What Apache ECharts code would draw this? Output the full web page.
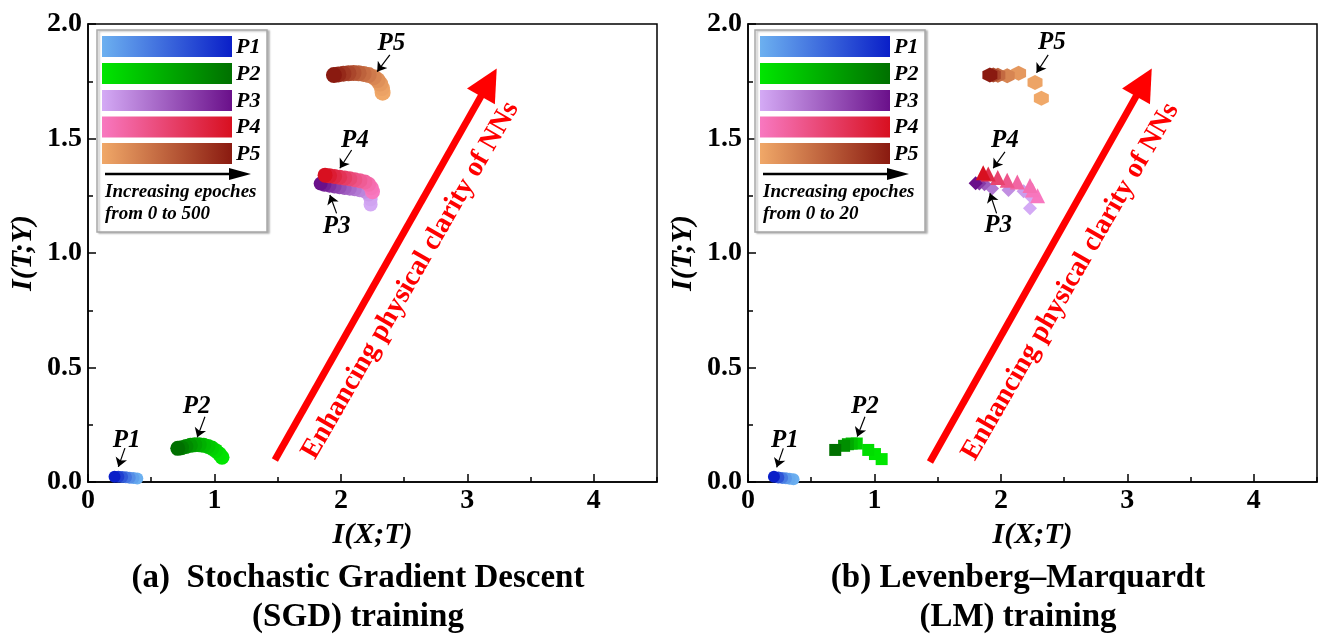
<!DOCTYPE html>
<html><head><meta charset="utf-8">
<script src="https://cdn.jsdelivr.net/npm/echarts@6/dist/echarts.min.js"></script>
<style>html,body{margin:0;padding:0;background:#fff}#c{width:1321px;height:636px}</style>
</head><body><div id="c"></div>
<script>
const FONT = "'Liberation Serif','Times New Roman',serif";

// ---------- data (I(X;T), I(T;Y)), ordered from epoch 0 to last epoch ----------
const names = ['P1', 'P2', 'P3', 'P4', 'P5'];
const colorLight = ['#6cb0f0', '#00e600', '#d4aaf5', '#f878c0', '#f0a868'];
const colorDark  = ['#0a1fc8', '#007000', '#6a108a', '#d81020', '#8a1a10'];

// (a) SGD training, 0..500 epochs
const sgdP1 = [[0.39,0.015],[0.36,0.017],[0.33,0.019],[0.30,0.021],[0.27,0.022],[0.24,0.023],[0.21,0.023]];
const sgdP2 = [[1.06,0.108],[1.04,0.122],[1.01,0.137],[0.98,0.148],[0.95,0.155],[0.915,0.160],[0.88,0.163],[0.845,0.163],[0.81,0.160],[0.775,0.155],[0.74,0.150],[0.71,0.147]];
const sgdP3 = [[2.235,1.212],[2.235,1.235],[2.22,1.255],[2.19,1.268],[2.15,1.274],[2.11,1.278],[2.07,1.281],[2.03,1.284],[1.99,1.287],[1.95,1.290],[1.91,1.294],[1.87,1.298],[1.84,1.303]];
const sgdP4 = [[2.25,1.268],[2.24,1.285],[2.22,1.300],[2.19,1.310],[2.15,1.316],[2.11,1.320],[2.07,1.324],[2.03,1.328],[1.99,1.331],[1.95,1.334],[1.91,1.337],[1.875,1.340]];
const sgdP5 = [[2.33,1.700],[2.325,1.720],[2.31,1.740],[2.29,1.755],[2.26,1.768],[2.22,1.777],[2.18,1.782],[2.14,1.785],[2.10,1.786],[2.06,1.785],[2.02,1.783],[1.98,1.780],[1.945,1.777]];

// (b) LM training, 0..20 epochs
const lmP1 = [[0.36,0.012],[0.33,0.014],[0.30,0.016],[0.27,0.018],[0.24,0.020],[0.205,0.023]];
const lmP2 = [[1.057,0.100],[1.004,0.122],[0.951,0.140],[0.86,0.168],[0.82,0.168],[0.79,0.165],[0.76,0.158],[0.69,0.140]];
const lmP3 = [[2.23,1.195],[2.23,1.250],[2.18,1.270],[2.06,1.275],[1.93,1.282],[1.87,1.300],[1.83,1.304],[1.80,1.305]];
const lmP4 = [[2.29,1.250],[2.25,1.275],[2.23,1.295],[2.13,1.310],[2.05,1.318],[1.975,1.330],[1.90,1.345],[1.86,1.350]];
const lmP5 = [[2.32,1.676],[2.27,1.745],[2.14,1.785],[2.05,1.774],[1.976,1.776],[1.94,1.777],[1.913,1.777]];

// annotation label positions and pointer arrows (data coords)
const annTextA  = [[0.306,0.183],[0.859,0.329],[1.966,1.115],[2.111,1.493],[2.40,1.916]];
const annArrowA = [[[0.292,0.148],[0.24,0.066]],[[0.925,0.285],[0.864,0.195]],[[1.966,1.173],[1.913,1.253]],[[2.085,1.45],[1.992,1.37]],[[2.387,1.865],[2.287,1.792]]];
const annTextB  = [[0.292,0.183],[0.925,0.329],[1.979,1.118],[2.032,1.493],[2.403,1.921]];
const annArrowB = [[[0.279,0.147],[0.227,0.064]],[[0.925,0.285],[0.864,0.198]],[[1.966,1.173],[1.913,1.261]],[[2.032,1.442],[1.939,1.37]],[[2.374,1.865],[2.282,1.787]]];

// big red arrow and its text
const redArrowA = [[1.478,0.096],[3.17,1.745]];
const redArrowB = [[1.439,0.087],[3.131,1.745]];
const redTextPos = [[2.55,0.88],[2.55,0.875]];
const redText = 'Enhancing physical clarity of NNs';

const xTickVals = [0,1,2,3,4];
const captions = [['(a)  Stochastic Gradient Descent','(SGD) training'],['(b) Levenberg\u2013Marquardt','(LM) training']];
const epochText = [['Increasing epoches','from 0 to 500'],['Increasing epoches','from 0 to 20']];

// ---------- helpers ----------
function hex2rgb(h){return [parseInt(h.slice(1,3),16),parseInt(h.slice(3,5),16),parseInt(h.slice(5,7),16)];}
function lerp(a,b,t){const A=hex2rgb(a),B=hex2rgb(b);return 'rgb('+A.map((v,i)=>Math.round(v+(B[i]-v)*t)).join(',')+')';}

const HEX = 'path://M0,-1 L0.866,-0.5 L0.866,0.5 L0,1 L-0.866,0.5 L-0.866,-0.5 Z';
const DIAM = 'path://M0,-1 L1,0 L0,1 L-1,0 Z';

function trail(data, k, gi, symbol, size, power){
  return {type:'scatter', xAxisIndex: gi*2, yAxisIndex: gi, data: data, symbol: symbol, symbolSize: size,
    clip:false, z:3, silent:true,
    itemStyle:{opacity:1, color: p => lerp(colorLight[k], colorDark[k], Math.pow(p.dataIndex/(data.length-1), power))}};
}

const series = [];
[sgdP1,sgdP2,sgdP3,sgdP4,sgdP5].forEach((d,k)=>{
  const sz = [12,15,14,15,16][k];
  series.push(trail(d,k,0,'circle',sz,1.3));
});
const lmSym = ['circle','rect',DIAM,'triangle',HEX];
const lmSize = [12,12,14,15,15];
[lmP1,lmP2,lmP3,lmP4,lmP5].forEach((d,k)=>{
  series.push(trail(d,k,1,lmSym[k],lmSize[k],2));
});

[[annTextA,annArrowA],[annTextB,annArrowB]].forEach(([txt,arr],gi)=>{
  series.push({type:'lines', coordinateSystem:'cartesian2d', xAxisIndex:gi*2, yAxisIndex:gi, silent:true, z:4,
    symbol:['none','arrow'], symbolSize:[0,9],
    lineStyle:{color:'#000', width:1.2, opacity:1},
    data: arr.map(c=>({coords:c}))});
  series.push({type:'scatter', xAxisIndex:gi*2, yAxisIndex:gi, silent:true, z:5, symbolSize:1,
    itemStyle:{color:'rgba(0,0,0,0)', opacity:1},
    label:{show:true, position:'inside', formatter: p=>p.name, color:'#000', opacity:1, textBorderWidth:0,
      fontFamily:FONT, fontWeight:'bold', fontStyle:'italic', fontSize:25},
    data: txt.map((v,i)=>({name:names[i], value:v}))});
});

[redArrowA, redArrowB].forEach((c,gi)=>{
  series.push({type:'lines', coordinateSystem:'cartesian2d', xAxisIndex:gi*2, yAxisIndex:gi, silent:true, z:4,
    symbol:['none','triangle'], symbolSize:[0,32],
    lineStyle:{color:'#ff0000', width:7, opacity:1, cap:'butt'},
    data:[{coords:c}]});
  series.push({type:'scatter', xAxisIndex:gi*2, yAxisIndex:gi, silent:true, z:5, symbolSize:1,
    itemStyle:{color:'rgba(0,0,0,0)', opacity:1},
    label:{show:true, position:'inside', rotate:60, formatter: ()=>redText, color:'#ff0000', opacity:1, textBorderWidth:0,
      fontFamily:FONT, fontWeight:'bold', fontSize:28},
    data:[{name:'t', value: redTextPos[gi]}]});
});

// ---------- axes ----------
const grids = [{left:88, top:24, width:569, height:458}, {left:748, top:24, width:569, height:458}]
  .map(g=>Object.assign(g,{show:true, borderColor:'#000', borderWidth:1.5, backgroundColor:'transparent'}));

const xAxes = [], yAxes = [];
[0,1].forEach(gi=>{
  xAxes.push({type:'value', gridIndex:gi, min:0, max:4.5, interval:1, position:'bottom',
    name:'I(X;T)', nameLocation:'middle', nameGap:34,
    nameTextStyle:{fontFamily:FONT, fontWeight:'bold', fontStyle:'italic', fontSize:30, color:'#000'},
    axisLine:{show:true, lineStyle:{color:'#000', width:1.5}},
    axisTick:{show:true, inside:true, length:8, lineStyle:{color:'#000', width:1.5}},
    splitLine:{show:false},
    axisLabel:{showMaxLabel:false, margin:5, color:'#000', fontFamily:FONT, fontWeight:'bold', fontSize:28,
      formatter: v => xTickVals.includes(v) ? String(v) : ''}});
  xAxes.push({type:'value', gridIndex:gi, min:0, max:4.5, interval:0.5, position:'bottom',
    axisLine:{show:false}, axisLabel:{show:false}, splitLine:{show:false},
    axisTick:{show:true, inside:true, length:5, lineStyle:{color:'#000', width:1.5}}});
  yAxes.push({type:'value', gridIndex:gi, min:0, max:2, interval:0.5,
    name:'I(T;Y)', nameLocation:'middle', nameGap:50,
    nameTextStyle:{fontFamily:FONT, fontWeight:'bold', fontStyle:'italic', fontSize:30, color:'#000'},
    axisLine:{show:true, lineStyle:{color:'#000', width:1.5}},
    axisTick:{show:true, inside:true, length:8, lineStyle:{color:'#000', width:1.5}},
    minorTick:{show:true, splitNumber:2, length:5, lineStyle:{color:'#000', width:1.5}},
    splitLine:{show:false}, minorSplitLine:{show:false},
    axisLabel:{margin:6, color:'#000', fontFamily:FONT, fontWeight:'bold', fontSize:28, formatter:v=>v.toFixed(1)}});
});

// ---------- legend boxes & captions (decorations) ----------
const graphic = [];
[[0,97,102],[1,755,760]].forEach(([gi,bx,barx])=>{
  graphic.push({type:'rect', shape:{x:bx, y:30, width:170, height:202},
    style:{fill:'#fff', stroke:'#a8a8a8', lineWidth:1.5, shadowColor:'rgba(0,0,0,0.25)', shadowOffsetX:2, shadowOffsetY:1, shadowBlur:2}, z:10});
  const barY = [36, 63, 90, 116.5, 143];
  names.forEach((n,k)=>{
    graphic.push({type:'rect', shape:{x:barx, y:barY[k], width:130, height:21},
      style:{fill:new echarts.graphic.LinearGradient(0,0,1,0,[{offset:0,color:colorLight[k]},{offset:1,color:colorDark[k]}])}, z:11});
    graphic.push({type:'text', x:barx+134, y:barY[k]+11, z:11,
      style:{text:n, fill:'#000', font:'italic bold 22px '+FONT, textVerticalAlign:'middle', textAlign:'left'}});
  });
  graphic.push({type:'line', shape:{x1:barx+3, y1:174, x2:barx+130, y2:174}, style:{stroke:'#000', lineWidth:2.5}, z:11});
  graphic.push({type:'polygon', shape:{points:[[barx+149,174],[barx+127,168],[barx+127,180]]}, style:{fill:'#000'}, z:11});
  graphic.push({type:'text', x:barx+3, y:192, z:11,
    style:{text:epochText[gi][0], fill:'#000', font:'italic bold 19px '+FONT, textVerticalAlign:'middle'}});
  graphic.push({type:'text', x:barx+3, y:214, z:11,
    style:{text:epochText[gi][1], fill:'#000', font:'italic bold 19px '+FONT, textVerticalAlign:'middle'}});
});
[[358,0],[1018,1]].forEach(([cx,gi])=>{
  graphic.push({type:'text', x:cx, y:578, style:{text:captions[gi][0], fill:'#000', font:'bold 33px '+FONT, textAlign:'center', textVerticalAlign:'middle'}});
  graphic.push({type:'text', x:cx, y:617, style:{text:captions[gi][1], fill:'#000', font:'bold 33px '+FONT, textAlign:'center', textVerticalAlign:'middle'}});
});

const chart = echarts.init(document.getElementById('c'), null, {renderer:'canvas'});
chart.setOption({animation:false, backgroundColor:'#fff', grid:grids, xAxis:xAxes, yAxis:yAxes, series:series, graphic:graphic});
</script></body></html>
